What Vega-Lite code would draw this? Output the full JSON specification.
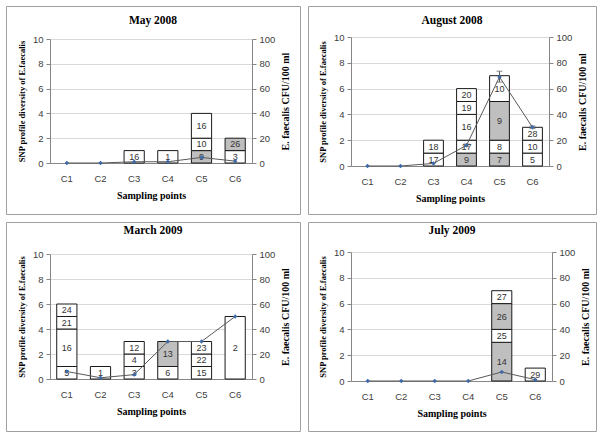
{
  "$schema": "https://vega.github.io/schema/vega-lite/v6.json",
  "background": "white",
  "padding": {"left": 5, "top": 5, "right": 0, "bottom": 0},
  "config": {"view": {"stroke": "#a0a0a0", "strokeWidth": 1}},
  "datasets": {
    "bars": [
      {"p": "May 2008", "s": "C3", "lo": 0, "hi": 1, "id": "16", "g": "w"},
      {"p": "May 2008", "s": "C4", "lo": 0, "hi": 1, "id": "1", "g": "w"},
      {"p": "May 2008", "s": "C5", "lo": 0, "hi": 1, "id": "9", "g": "g"},
      {"p": "May 2008", "s": "C5", "lo": 1, "hi": 2, "id": "10", "g": "w"},
      {"p": "May 2008", "s": "C5", "lo": 2, "hi": 4, "id": "16", "g": "w"},
      {"p": "May 2008", "s": "C6", "lo": 0, "hi": 1, "id": "3", "g": "w"},
      {"p": "May 2008", "s": "C6", "lo": 1, "hi": 2, "id": "26", "g": "g"},
      {"p": "August 2008", "s": "C3", "lo": 0, "hi": 1, "id": "17", "g": "w"},
      {"p": "August 2008", "s": "C3", "lo": 1, "hi": 2, "id": "18", "g": "w"},
      {"p": "August 2008", "s": "C4", "lo": 0, "hi": 1, "id": "9", "g": "g"},
      {"p": "August 2008", "s": "C4", "lo": 1, "hi": 2, "id": "17", "g": "w"},
      {"p": "August 2008", "s": "C4", "lo": 2, "hi": 4, "id": "16", "g": "w"},
      {"p": "August 2008", "s": "C4", "lo": 4, "hi": 5, "id": "19", "g": "w"},
      {"p": "August 2008", "s": "C4", "lo": 5, "hi": 6, "id": "20", "g": "w"},
      {"p": "August 2008", "s": "C5", "lo": 0, "hi": 1, "id": "7", "g": "g"},
      {"p": "August 2008", "s": "C5", "lo": 1, "hi": 2, "id": "8", "g": "w"},
      {"p": "August 2008", "s": "C5", "lo": 2, "hi": 5, "id": "9", "g": "g"},
      {"p": "August 2008", "s": "C5", "lo": 5, "hi": 7, "id": "10", "g": "w"},
      {"p": "August 2008", "s": "C6", "lo": 0, "hi": 1, "id": "5", "g": "w"},
      {"p": "August 2008", "s": "C6", "lo": 1, "hi": 2, "id": "10", "g": "w"},
      {"p": "August 2008", "s": "C6", "lo": 2, "hi": 3, "id": "28", "g": "w"},
      {"p": "March 2009", "s": "C1", "lo": 0, "hi": 1, "id": "5", "g": "w"},
      {"p": "March 2009", "s": "C1", "lo": 1, "hi": 4, "id": "16", "g": "w"},
      {"p": "March 2009", "s": "C1", "lo": 4, "hi": 5, "id": "21", "g": "w"},
      {"p": "March 2009", "s": "C1", "lo": 5, "hi": 6, "id": "24", "g": "w"},
      {"p": "March 2009", "s": "C2", "lo": 0, "hi": 1, "id": "1", "g": "w"},
      {"p": "March 2009", "s": "C3", "lo": 0, "hi": 1, "id": "3", "g": "w"},
      {"p": "March 2009", "s": "C3", "lo": 1, "hi": 2, "id": "4", "g": "w"},
      {"p": "March 2009", "s": "C3", "lo": 2, "hi": 3, "id": "12", "g": "w"},
      {"p": "March 2009", "s": "C4", "lo": 0, "hi": 1, "id": "6", "g": "w"},
      {"p": "March 2009", "s": "C4", "lo": 1, "hi": 3, "id": "13", "g": "g"},
      {"p": "March 2009", "s": "C5", "lo": 0, "hi": 1, "id": "15", "g": "w"},
      {"p": "March 2009", "s": "C5", "lo": 1, "hi": 2, "id": "22", "g": "w"},
      {"p": "March 2009", "s": "C5", "lo": 2, "hi": 3, "id": "23", "g": "w"},
      {"p": "March 2009", "s": "C6", "lo": 0, "hi": 5, "id": "2", "g": "w"},
      {"p": "July 2009", "s": "C5", "lo": 0, "hi": 3, "id": "14", "g": "g"},
      {"p": "July 2009", "s": "C5", "lo": 3, "hi": 4, "id": "25", "g": "w"},
      {"p": "July 2009", "s": "C5", "lo": 4, "hi": 6, "id": "26", "g": "g"},
      {"p": "July 2009", "s": "C5", "lo": 6, "hi": 7, "id": "27", "g": "w"},
      {"p": "July 2009", "s": "C6", "lo": 0, "hi": 1, "id": "29", "g": "w"}
    ],
    "cfu": [
      {"p": "May 2008", "s": "C1", "v": 0},
      {"p": "May 2008", "s": "C2", "v": 0},
      {"p": "May 2008", "s": "C3", "v": 1},
      {"p": "May 2008", "s": "C4", "v": 1},
      {"p": "May 2008", "s": "C5", "v": 4.5},
      {"p": "May 2008", "s": "C6", "v": 1.5},
      {"p": "August 2008", "s": "C1", "v": 0},
      {"p": "August 2008", "s": "C2", "v": 0},
      {"p": "August 2008", "s": "C3", "v": 2},
      {"p": "August 2008", "s": "C4", "v": 16, "lo": 15, "hi": 17},
      {"p": "August 2008", "s": "C5", "v": 69, "lo": 65, "hi": 73.5},
      {"p": "August 2008", "s": "C6", "v": 30, "lo": 29, "hi": 31},
      {"p": "March 2009", "s": "C1", "v": 6},
      {"p": "March 2009", "s": "C2", "v": 1},
      {"p": "March 2009", "s": "C3", "v": 3.5},
      {"p": "March 2009", "s": "C4", "v": 30},
      {"p": "March 2009", "s": "C5", "v": 30},
      {"p": "March 2009", "s": "C6", "v": 50},
      {"p": "July 2009", "s": "C1", "v": 0},
      {"p": "July 2009", "s": "C2", "v": 0},
      {"p": "July 2009", "s": "C3", "v": 0},
      {"p": "July 2009", "s": "C4", "v": 0},
      {"p": "July 2009", "s": "C5", "v": 7},
      {"p": "July 2009", "s": "C6", "v": 1}
    ]
  },
  "vconcat": [
    {
      "hconcat": [
        {
          "width": 294, "height": 208,
          "title": {"text": "May 2008", "frame": "group", "offset": -26, "baseline": "middle", "font": "Liberation Serif", "fontSize": 11.5, "fontWeight": "bold", "color": "#000000"},
          "resolve": {"scale": {"y": "independent"}},
          "layer": [
            {
              "layer": [
                {
                  "data": {"name": "bars"},
                  "transform": [{"filter": {"field": "p", "equal": "May 2008"}}],
                  "mark": {"type": "bar", "stroke": "#1a1a1a", "strokeWidth": 1},
                  "encoding": {
                    "x": {"field": "s", "type": "nominal", "scale": {"domain": ["C1","C2","C3","C4","C5","C6"], "range": [44, 246], "paddingInner": 0.4, "paddingOuter": 0.2},
                      "axis": {"orient": "bottom", "offset": -51, "title": "Sampling points", "domainColor": "#868686", "ticks": false, "labelAngle": 0, "labelFont": "Liberation Sans", "labelFontSize": 9.5, "labelColor": "#404040", "labelPadding": 10, "titleFont": "Liberation Serif", "titleFontSize": 10, "titleFontWeight": "bold", "titleColor": "#000000", "titlePadding": 8}},
                    "y": {"field": "lo", "type": "quantitative", "scale": {"domain": [0, 10], "range": [157, 33], "nice": false, "zero": false},
                      "axis": {"orient": "left", "offset": -44, "values": [0,2,4,6,8,10], "grid": true, "gridColor": "#d9d9d9", "domainColor": "#868686", "tickColor": "#868686", "tickSize": 4, "labelFont": "Liberation Sans", "labelFontSize": 9.5, "labelColor": "#404040", "labelPadding": 3, "title": "SNP profile diversity of E.faecalis", "titleFont": "Liberation Serif", "titleFontSize": 8.5, "titleFontWeight": "bold", "titleColor": "#000000", "titlePadding": 6}},
                    "y2": {"field": "hi"},
                    "fill": {"field": "g", "type": "nominal", "scale": {"domain": ["w", "g"], "range": ["#ffffff", "#bfbfbf"]}, "legend": null}
                  }
                },
                {
                  "data": {"name": "bars"},
                  "transform": [{"filter": {"field": "p", "equal": "May 2008"}}, {"fold": ["lo", "hi"], "as": ["k", "v"]}],
                  "mark": {"type": "text", "font": "Liberation Sans", "fontSize": 9, "color": "#333333"},
                  "encoding": {
                    "x": {"field": "s", "type": "nominal"},
                    "y": {"aggregate": "mean", "field": "v", "type": "quantitative"},
                    "text": {"field": "id", "type": "nominal"}
                  }
                }
              ]
            },
            {
              "layer": [
                {
                  "data": {"name": "cfu"},
                  "transform": [{"filter": {"field": "p", "equal": "May 2008"}}],
                  "mark": {"type": "line", "color": "#595959", "strokeWidth": 1},
                  "encoding": {
                    "x": {"field": "s", "type": "nominal"},
                    "y": {"field": "v", "type": "quantitative", "scale": {"domain": [0, 100], "range": [157, 33], "nice": false},
                      "axis": {"orient": "right", "offset": -48, "values": [0,20,40,60,80,100], "grid": false, "domainColor": "#868686", "tickColor": "#868686", "tickSize": 4, "labelFont": "Liberation Sans", "labelFontSize": 9.5, "labelColor": "#404040", "labelPadding": 3, "title": "E. faecalis CFU/100 ml", "titleFont": "Liberation Serif", "titleFontSize": 10, "titleFontWeight": "bold", "titleColor": "#000000", "titleAngle": 270, "titleBaseline": "top", "titlePadding": 6}}
                  }
                },
                {
                  "data": {"name": "cfu"},
                  "transform": [{"filter": {"field": "p", "equal": "May 2008"}}],
                  "mark": {"type": "point", "shape": "diamond", "filled": true, "size": 20, "color": "#3f6aa6", "opacity": 1},
                  "encoding": {
                    "x": {"field": "s", "type": "nominal"},
                    "y": {"field": "v", "type": "quantitative"}
                  }
                }
              ]
            }
          ]
        },
        {
          "width": 288, "height": 208,
          "title": {"text": "August 2008", "frame": "group", "offset": -26, "baseline": "middle", "font": "Liberation Serif", "fontSize": 11.5, "fontWeight": "bold", "color": "#000000"},
          "resolve": {"scale": {"y": "independent"}},
          "layer": [
            {
              "layer": [
                {
                  "data": {"name": "bars"},
                  "transform": [{"filter": {"field": "p", "equal": "August 2008"}}],
                  "mark": {"type": "bar", "stroke": "#1a1a1a", "strokeWidth": 1},
                  "encoding": {
                    "x": {"field": "s", "type": "nominal", "scale": {"domain": ["C1","C2","C3","C4","C5","C6"], "range": [43, 241], "paddingInner": 0.4, "paddingOuter": 0.2},
                      "axis": {"orient": "bottom", "offset": -48, "title": "Sampling points", "domainColor": "#868686", "ticks": false, "labelAngle": 0, "labelFont": "Liberation Sans", "labelFontSize": 9.5, "labelColor": "#404040", "labelPadding": 10, "titleFont": "Liberation Serif", "titleFontSize": 10, "titleFontWeight": "bold", "titleColor": "#000000", "titlePadding": 8}},
                    "y": {"field": "lo", "type": "quantitative", "scale": {"domain": [0, 10], "range": [160, 31], "nice": false, "zero": false},
                      "axis": {"orient": "left", "offset": -43, "values": [0,2,4,6,8,10], "grid": true, "gridColor": "#d9d9d9", "domainColor": "#868686", "tickColor": "#868686", "tickSize": 4, "labelFont": "Liberation Sans", "labelFontSize": 9.5, "labelColor": "#404040", "labelPadding": 3, "title": "SNP profile diversity of E.faecalis", "titleFont": "Liberation Serif", "titleFontSize": 8.5, "titleFontWeight": "bold", "titleColor": "#000000", "titlePadding": 6}},
                    "y2": {"field": "hi"},
                    "fill": {"field": "g", "type": "nominal", "scale": {"domain": ["w", "g"], "range": ["#ffffff", "#bfbfbf"]}, "legend": null}
                  }
                },
                {
                  "data": {"name": "bars"},
                  "transform": [{"filter": {"field": "p", "equal": "August 2008"}}, {"fold": ["lo", "hi"], "as": ["k", "v"]}],
                  "mark": {"type": "text", "font": "Liberation Sans", "fontSize": 9, "color": "#333333"},
                  "encoding": {
                    "x": {"field": "s", "type": "nominal"},
                    "y": {"aggregate": "mean", "field": "v", "type": "quantitative"},
                    "text": {"field": "id", "type": "nominal"}
                  }
                }
              ]
            },
            {
              "layer": [
                {
                  "data": {"name": "cfu"},
                  "transform": [{"filter": {"field": "p", "equal": "August 2008"}}],
                  "mark": {"type": "line", "color": "#595959", "strokeWidth": 1},
                  "encoding": {
                    "x": {"field": "s", "type": "nominal"},
                    "y": {"field": "v", "type": "quantitative", "scale": {"domain": [0, 100], "range": [160, 31], "nice": false},
                      "axis": {"orient": "right", "offset": -47, "values": [0,20,40,60,80,100], "grid": false, "domainColor": "#868686", "tickColor": "#868686", "tickSize": 4, "labelFont": "Liberation Sans", "labelFontSize": 9.5, "labelColor": "#404040", "labelPadding": 3, "title": "E. faecalis CFU/100 ml", "titleFont": "Liberation Serif", "titleFontSize": 10, "titleFontWeight": "bold", "titleColor": "#000000", "titleAngle": 270, "titleBaseline": "top", "titlePadding": 6}}
                  }
                },
                {
                  "data": {"name": "cfu"},
                  "transform": [{"filter": {"field": "p", "equal": "August 2008"}}, {"filter": "isValid(datum.lo)"}],
                  "mark": {"type": "rule", "color": "#595959", "strokeWidth": 1},
                  "encoding": {
                    "x": {"field": "s", "type": "nominal"},
                    "y": {"field": "lo", "type": "quantitative"},
                    "y2": {"field": "hi"}
                  }
                },
                {
                  "data": {"name": "cfu"},
                  "transform": [{"filter": {"field": "p", "equal": "August 2008"}}, {"filter": "isValid(datum.lo)"}],
                  "mark": {"type": "tick", "orient": "horizontal", "color": "#595959", "size": 6, "thickness": 1},
                  "encoding": {
                    "x": {"field": "s", "type": "nominal"},
                    "y": {"field": "hi", "type": "quantitative"}
                  }
                },
                {
                  "data": {"name": "cfu"},
                  "transform": [{"filter": {"field": "p", "equal": "August 2008"}}, {"filter": "isValid(datum.lo)"}],
                  "mark": {"type": "tick", "orient": "horizontal", "color": "#595959", "size": 6, "thickness": 1},
                  "encoding": {
                    "x": {"field": "s", "type": "nominal"},
                    "y": {"field": "lo", "type": "quantitative"}
                  }
                },
                {
                  "data": {"name": "cfu"},
                  "transform": [{"filter": {"field": "p", "equal": "August 2008"}}],
                  "mark": {"type": "point", "shape": "diamond", "filled": true, "size": 20, "color": "#3f6aa6", "opacity": 1},
                  "encoding": {
                    "x": {"field": "s", "type": "nominal"},
                    "y": {"field": "v", "type": "quantitative"}
                  }
                }
              ]
            }
          ]
        }
      ],
      "spacing": 6
    },
    {
      "hconcat": [
        {
          "width": 294, "height": 209,
          "title": {"text": "March 2009", "frame": "group", "offset": -20, "baseline": "middle", "font": "Liberation Serif", "fontSize": 11.5, "fontWeight": "bold", "color": "#000000"},
          "resolve": {"scale": {"y": "independent"}},
          "layer": [
            {
              "layer": [
                {
                  "data": {"name": "bars"},
                  "transform": [{"filter": {"field": "p", "equal": "March 2009"}}],
                  "mark": {"type": "bar", "stroke": "#1a1a1a", "strokeWidth": 1},
                  "encoding": {
                    "x": {"field": "s", "type": "nominal", "scale": {"domain": ["C1","C2","C3","C4","C5","C6"], "range": [44, 246], "paddingInner": 0.4, "paddingOuter": 0.2},
                      "axis": {"orient": "bottom", "offset": -52, "title": "Sampling points", "domainColor": "#868686", "ticks": false, "labelAngle": 0, "labelFont": "Liberation Sans", "labelFontSize": 9.5, "labelColor": "#404040", "labelPadding": 10, "titleFont": "Liberation Serif", "titleFontSize": 10, "titleFontWeight": "bold", "titleColor": "#000000", "titlePadding": 8}},
                    "y": {"field": "lo", "type": "quantitative", "scale": {"domain": [0, 10], "range": [157, 32], "nice": false, "zero": false},
                      "axis": {"orient": "left", "offset": -44, "values": [0,2,4,6,8,10], "grid": true, "gridColor": "#d9d9d9", "domainColor": "#868686", "tickColor": "#868686", "tickSize": 4, "labelFont": "Liberation Sans", "labelFontSize": 9.5, "labelColor": "#404040", "labelPadding": 3, "title": "SNP profile diversity of E.faecalis", "titleFont": "Liberation Serif", "titleFontSize": 8.5, "titleFontWeight": "bold", "titleColor": "#000000", "titlePadding": 6}},
                    "y2": {"field": "hi"},
                    "fill": {"field": "g", "type": "nominal", "scale": {"domain": ["w", "g"], "range": ["#ffffff", "#bfbfbf"]}, "legend": null}
                  }
                },
                {
                  "data": {"name": "bars"},
                  "transform": [{"filter": {"field": "p", "equal": "March 2009"}}, {"fold": ["lo", "hi"], "as": ["k", "v"]}],
                  "mark": {"type": "text", "font": "Liberation Sans", "fontSize": 9, "color": "#333333"},
                  "encoding": {
                    "x": {"field": "s", "type": "nominal"},
                    "y": {"aggregate": "mean", "field": "v", "type": "quantitative"},
                    "text": {"field": "id", "type": "nominal"}
                  }
                }
              ]
            },
            {
              "layer": [
                {
                  "data": {"name": "cfu"},
                  "transform": [{"filter": {"field": "p", "equal": "March 2009"}}],
                  "mark": {"type": "line", "color": "#595959", "strokeWidth": 1},
                  "encoding": {
                    "x": {"field": "s", "type": "nominal"},
                    "y": {"field": "v", "type": "quantitative", "scale": {"domain": [0, 100], "range": [157, 32], "nice": false},
                      "axis": {"orient": "right", "offset": -48, "values": [0,20,40,60,80,100], "grid": false, "domainColor": "#868686", "tickColor": "#868686", "tickSize": 4, "labelFont": "Liberation Sans", "labelFontSize": 9.5, "labelColor": "#404040", "labelPadding": 3, "title": "E. faecalis CFU/100 ml", "titleFont": "Liberation Serif", "titleFontSize": 10, "titleFontWeight": "bold", "titleColor": "#000000", "titleAngle": 270, "titleBaseline": "top", "titlePadding": 6}}
                  }
                },
                {
                  "data": {"name": "cfu"},
                  "transform": [{"filter": {"field": "p", "equal": "March 2009"}}],
                  "mark": {"type": "point", "shape": "diamond", "filled": true, "size": 20, "color": "#3f6aa6", "opacity": 1},
                  "encoding": {
                    "x": {"field": "s", "type": "nominal"},
                    "y": {"field": "v", "type": "quantitative"}
                  }
                }
              ]
            }
          ]
        },
        {
          "width": 288, "height": 209,
          "title": {"text": "July 2009", "frame": "group", "offset": -20, "baseline": "middle", "font": "Liberation Serif", "fontSize": 11.5, "fontWeight": "bold", "color": "#000000"},
          "resolve": {"scale": {"y": "independent"}},
          "layer": [
            {
              "layer": [
                {
                  "data": {"name": "bars"},
                  "transform": [{"filter": {"field": "p", "equal": "July 2009"}}],
                  "mark": {"type": "bar", "stroke": "#1a1a1a", "strokeWidth": 1},
                  "encoding": {
                    "x": {"field": "s", "type": "nominal", "scale": {"domain": ["C1","C2","C3","C4","C5","C6"], "range": [43, 244], "paddingInner": 0.4, "paddingOuter": 0.2},
                      "axis": {"orient": "bottom", "offset": -50, "title": "Sampling points", "domainColor": "#868686", "ticks": false, "labelAngle": 0, "labelFont": "Liberation Sans", "labelFontSize": 9.5, "labelColor": "#404040", "labelPadding": 10, "titleFont": "Liberation Serif", "titleFontSize": 10, "titleFontWeight": "bold", "titleColor": "#000000", "titlePadding": 8}},
                    "y": {"field": "lo", "type": "quantitative", "scale": {"domain": [0, 10], "range": [159, 30], "nice": false, "zero": false},
                      "axis": {"orient": "left", "offset": -43, "values": [0,2,4,6,8,10], "grid": true, "gridColor": "#d9d9d9", "domainColor": "#868686", "tickColor": "#868686", "tickSize": 4, "labelFont": "Liberation Sans", "labelFontSize": 9.5, "labelColor": "#404040", "labelPadding": 3, "title": "SNP profile diversity of E.faecalis", "titleFont": "Liberation Serif", "titleFontSize": 8.5, "titleFontWeight": "bold", "titleColor": "#000000", "titlePadding": 6}},
                    "y2": {"field": "hi"},
                    "fill": {"field": "g", "type": "nominal", "scale": {"domain": ["w", "g"], "range": ["#ffffff", "#bfbfbf"]}, "legend": null}
                  }
                },
                {
                  "data": {"name": "bars"},
                  "transform": [{"filter": {"field": "p", "equal": "July 2009"}}, {"fold": ["lo", "hi"], "as": ["k", "v"]}],
                  "mark": {"type": "text", "font": "Liberation Sans", "fontSize": 9, "color": "#333333"},
                  "encoding": {
                    "x": {"field": "s", "type": "nominal"},
                    "y": {"aggregate": "mean", "field": "v", "type": "quantitative"},
                    "text": {"field": "id", "type": "nominal"}
                  }
                }
              ]
            },
            {
              "layer": [
                {
                  "data": {"name": "cfu"},
                  "transform": [{"filter": {"field": "p", "equal": "July 2009"}}],
                  "mark": {"type": "line", "color": "#595959", "strokeWidth": 1},
                  "encoding": {
                    "x": {"field": "s", "type": "nominal"},
                    "y": {"field": "v", "type": "quantitative", "scale": {"domain": [0, 100], "range": [159, 30], "nice": false},
                      "axis": {"orient": "right", "offset": -44, "values": [0,20,40,60,80,100], "grid": false, "domainColor": "#868686", "tickColor": "#868686", "tickSize": 4, "labelFont": "Liberation Sans", "labelFontSize": 9.5, "labelColor": "#404040", "labelPadding": 3, "title": "E. faecalis CFU/100 ml", "titleFont": "Liberation Serif", "titleFontSize": 10, "titleFontWeight": "bold", "titleColor": "#000000", "titleAngle": 270, "titleBaseline": "top", "titlePadding": 6}}
                  }
                },
                {
                  "data": {"name": "cfu"},
                  "transform": [{"filter": {"field": "p", "equal": "July 2009"}}],
                  "mark": {"type": "point", "shape": "diamond", "filled": true, "size": 20, "color": "#3f6aa6", "opacity": 1},
                  "encoding": {
                    "x": {"field": "s", "type": "nominal"},
                    "y": {"field": "v", "type": "quantitative"}
                  }
                }
              ]
            }
          ]
        }
      ],
      "spacing": 6
    }
  ],
  "spacing": 6
}
